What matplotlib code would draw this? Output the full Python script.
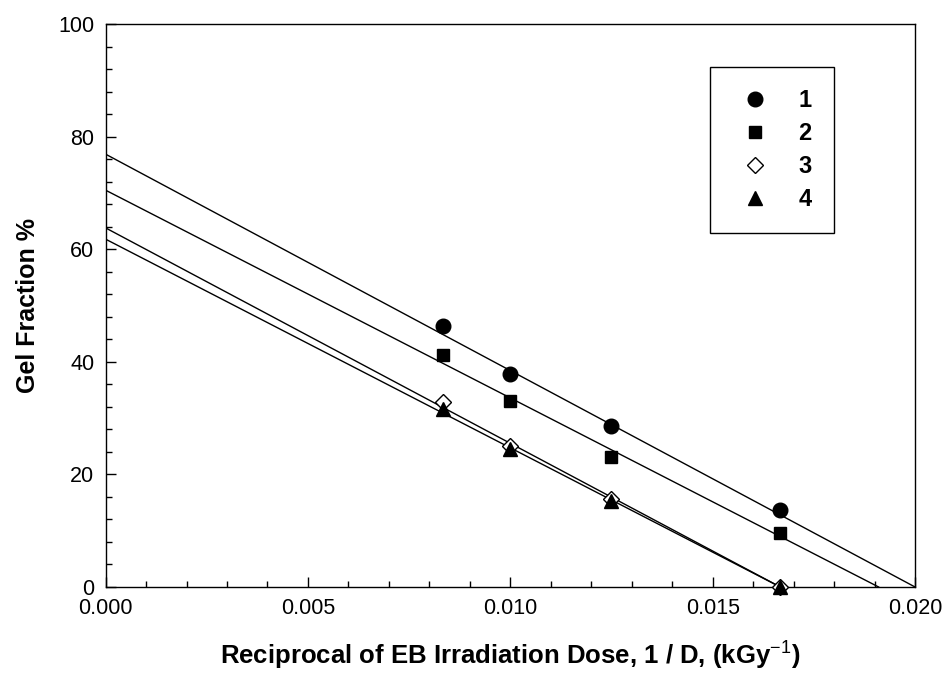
import numpy as np
import matplotlib.pyplot as plt
from matplotlib.ticker import MultipleLocator

plt.rcParams['font.family'] = ['Liberation Sans', 'DejaVu Sans']
plt.rcParams['mathtext.fontset'] = 'custom'
plt.rcParams['mathtext.rm'] = 'Liberation Sans'
plt.rcParams['mathtext.bf'] = 'Liberation Sans:bold'

# reciprocal dose, 1/D (kGy^-1)
dose_inv = [1 / 120, 1 / 100, 1 / 80, 1 / 60]

# gel fraction % for the four samples
gel_1 = [46.4, 37.8, 28.6, 13.7]
gel_2 = [41.2, 33.0, 23.1, 9.6]
gel_3 = [32.9, 25.0, 15.6, 0.0]
gel_4 = [31.6, 24.6, 15.2, 0.0]

# fitted straight lines: intercept at 1/D=0, and 1/D where gel = 0
fit_intercept = [76.9, 70.5, 63.8, 61.8]
fit_zero_x = [0.0200, 0.0191, 0.01667, 0.01667]

labels = ['1', '2', '3', '4']
series = [gel_1, gel_2, gel_3, gel_4]
markers = ['o', 's', 'D', '^']
msizes = [10.5, 9, 8.5, 10]
faces = ['black', 'black', 'white', 'black']

fig = plt.figure(figsize=(9.45, 6.79), dpi=100)
ax = fig.add_axes([0.1117, 0.1355, 0.8566, 0.8290])

for i in range(4):
    xs = np.array([0.0, fit_zero_x[i]])
    ys = fit_intercept[i] * (1 - xs / fit_zero_x[i])
    ax.plot(xs, ys, color='black', lw=1.0, zorder=2)

handles = []
for i in range(4):
    h, = ax.plot(dose_inv, series[i], linestyle='none', marker=markers[i],
                 ms=msizes[i], mfc=faces[i], mec='black', mew=1.0,
                 label=labels[i], zorder=3, clip_on=False)
    handles.append(h)

ax.set_xlim(0, 0.020)
ax.set_ylim(0, 100)
ax.xaxis.set_major_locator(MultipleLocator(0.005))
ax.xaxis.set_minor_locator(MultipleLocator(0.001))
ax.yaxis.set_major_locator(MultipleLocator(20))
ax.yaxis.set_minor_locator(MultipleLocator(4))
ax.xaxis.set_major_formatter(plt.FuncFormatter(lambda v, p: f'{v:.3f}'))
ax.tick_params(which='both', direction='in', top=False, right=False,
               labelsize=15.5, width=1.0, pad=8)
ax.tick_params(which='major', length=7)
ax.tick_params(which='minor', length=4)
for sp in ax.spines.values():
    sp.set_linewidth(1.0)

ax.set_xlabel('Reciprocal of EB Irradiation Dose, 1 / D, (kGy$^{\\mathrm{-1}}$)',
              fontsize=18.5, fontweight='bold', labelpad=14)
ax.set_ylabel('Gel Fraction %', fontsize=18, fontweight='bold', labelpad=13)

leg = ax.legend(handles=handles, loc='upper right', bbox_to_anchor=(0.900, 0.924),
                frameon=True, fancybox=False, edgecolor='black', framealpha=1,
                prop={'weight': 'bold', 'size': 17}, labelspacing=0.42,
                handletextpad=0.9, borderpad=0.95, handlelength=1.9,
                borderaxespad=0)
leg.get_frame().set_linewidth(1.0)

fig.savefig('out.png', dpi=100)
